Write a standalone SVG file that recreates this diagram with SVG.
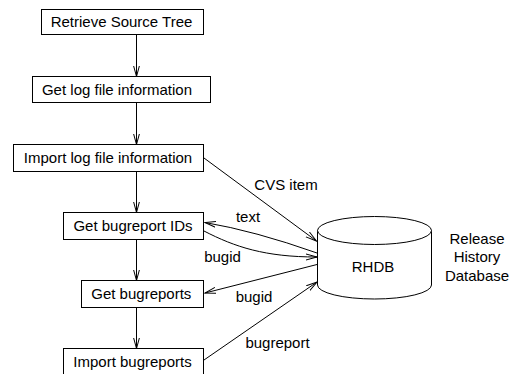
<svg xmlns="http://www.w3.org/2000/svg" width="510" height="374" viewBox="0 0 510 374">
<style>
  .box { fill: #fff; stroke: #000; stroke-width: 1; }
  .lbl { font-family: "Liberation Sans", Arial, sans-serif; font-size: 15px; fill: #000; text-anchor: middle; }
  .con { fill: none; stroke: #000; stroke-width: 1; }
</style>
<defs>
  <marker id="ah" markerWidth="12" markerHeight="8" refX="11" refY="4" orient="auto" markerUnits="userSpaceOnUse" viewBox="0 0 12 8">
    <path d="M0,1 L11,4 L0,7" fill="none" stroke="#000" stroke-width="1"/>
  </marker>
</defs>
<rect x="0" y="0" width="510" height="374" fill="#fff"/>

<g id="connectors">
  <line class="con" x1="136.5" y1="34.5" x2="136.5" y2="76.5" marker-end="url(#ah)"/>
  <line class="con" x1="136.5" y1="102.5" x2="136.5" y2="144.5" marker-end="url(#ah)"/>
  <line class="con" x1="136.5" y1="171.5" x2="136.5" y2="212.5" marker-end="url(#ah)"/>
  <line class="con" x1="136.5" y1="239.5" x2="136.5" y2="280.5" marker-end="url(#ah)"/>
  <line class="con" x1="136.5" y1="307.5" x2="136.5" y2="348.5" marker-end="url(#ah)"/>
  <line class="con" x1="204" y1="158" x2="316.5" y2="241" marker-end="url(#ah)"/>
  <path class="con" d="M317,253 Q255,231 205,222.5" marker-end="url(#ah)"/>
  <path class="con" d="M204,231 C235,247 265,257 317,257" marker-end="url(#ah)"/>
  <line class="con" x1="317" y1="264.5" x2="205" y2="293" marker-end="url(#ah)"/>
  <line class="con" x1="204" y1="360" x2="317" y2="282" marker-end="url(#ah)"/>
  <text class="lbl" x="286" y="190">CVS item</text>
  <text class="lbl" x="248" y="222">text</text>
  <text class="lbl" x="222.5" y="262">bugid</text>
  <text class="lbl" x="254" y="302">bugid</text>
  <text class="lbl" x="277.5" y="348">bugreport</text>
</g>

<g id="n1">
  <rect class="box" x="41.5" y="9.5" width="162" height="25"/>
  <text class="lbl" x="121.5" y="27.4">Retrieve Source Tree</text>
</g>
<g id="n2">
  <rect class="box" x="32.5" y="76.5" width="178" height="26"/>
  <text class="lbl" x="117" y="95.4">Get log file information</text>
</g>
<g id="n3">
  <rect class="box" x="13.5" y="144.5" width="190" height="27"/>
  <text class="lbl" x="108" y="163">Import log file information</text>
</g>
<g id="n4">
  <rect class="box" x="63.5" y="212.5" width="140" height="27"/>
  <text class="lbl" x="133" y="231">Get bugreport IDs</text>
</g>
<g id="n5">
  <rect class="box" x="81.5" y="280.5" width="122" height="27"/>
  <text class="lbl" x="141.3" y="299.4">Get bugreports</text>
</g>
<g id="n6">
  <rect class="box" x="63.5" y="348.5" width="140" height="27"/>
  <text class="lbl" x="132.5" y="367">Import bugreports</text>
</g>
<g id="rhdb">
  <path class="box" d="M317.5,230.5 L317.5,285 A57,14 0 0,0 431.5,285 L431.5,230.5 Z"/>
  <ellipse class="box" cx="374.5" cy="230.5" rx="57" ry="14"/>
  <text class="lbl" x="373" y="271.7">RHDB</text>
</g>
<g id="caption">
  <text class="lbl" x="477" y="243.5">Release</text>
  <text class="lbl" x="477" y="262">History</text>
  <text class="lbl" x="477" y="280.5">Database</text>
</g>
</svg>
